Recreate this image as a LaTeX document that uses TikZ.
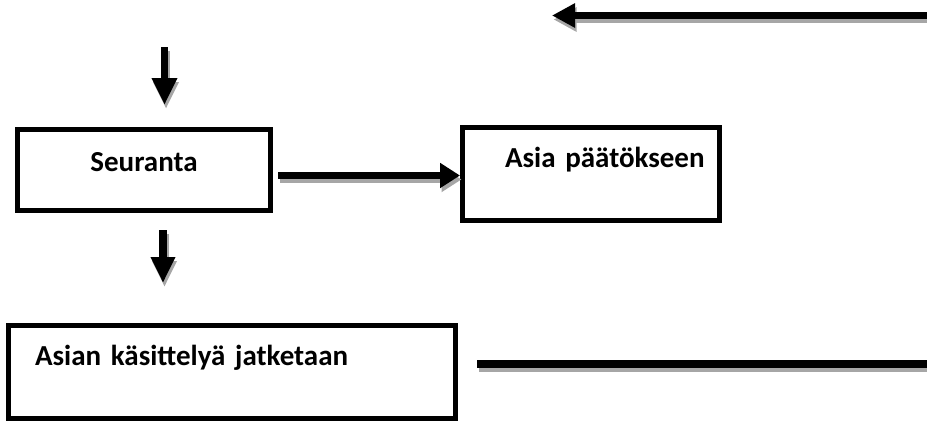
\documentclass[tikz,border=0pt]{standalone}
\usepackage{fontspec}
\setmainfont{Carlito}
\usetikzlibrary{arrows.meta}

\tikzset{
  box/.style={draw, line width=5pt, inner sep=0pt, font=\bfseries\fontsize{29}{34}\selectfont},
  fat/.style={line width=#1, preaction={draw=gray!70, line width=#1, transform canvas={shift={(1.5pt,-4pt)}}}},
}

\begin{document}
\begin{tikzpicture}[x=1pt, y=-1pt]

\useasboundingbox (0,0) rectangle (927,421);


% Boxes
\path
(144,171) node[box, anchor=base, minimum width=253pt, text height=41.5pt, text depth=39.5pt] (seuranta) {Seuranta}
(591,167) node[box, anchor=base, inner xsep=42.5pt, text width=172pt, align=left, text height=39.5pt, text depth=53.5pt] (asia) {\mbox{Asia päätökseen}}
(232,365) node[box, anchor=base, inner xsep=26.5pt, text width=394pt, align=left, text height=39.5pt, text depth=53.5pt] (jatko) {\mbox{Asian käsittelyä jatketaan}};


% Free ends
\coordinate (topin) at (927,15.5);
\coordinate (topout) at (552,15.5);
\coordinate (downin) at (164.5,47);
\coordinate (downout) at (164.5,105);
\coordinate (midin) at (163,230);
\coordinate (midout) at (163,283);
\coordinate (lineout) at (927,364);
\coordinate (linein) at (477,364);


% Arrows
\draw[fat=7.5pt, -{Triangle[length=23pt, width=23pt]}] (topin) -- (topout);

\draw[fat=7pt, -{Triangle[length=27pt, width=24pt]}] (downin) -- (downout);

\draw[fat=7pt, -{Triangle[length=20pt, width=24pt]}] ([shift={(5pt,-5.5pt)}]seuranta.east) -- ([yshift=-1.5pt]asia.west);

\draw[fat=8pt, -{Triangle[length=26pt, width=23pt]}] (midin) -- (midout);

\draw[fat=8pt] (linein) -- (lineout);


\end{tikzpicture}
\end{document}
